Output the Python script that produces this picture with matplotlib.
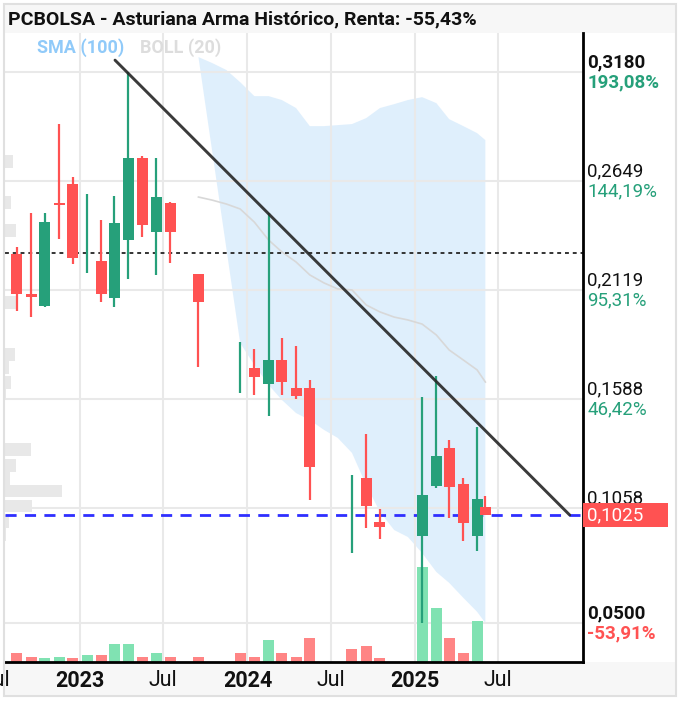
import matplotlib
matplotlib.use("Agg")
import matplotlib.pyplot as plt
import matplotlib.dates as mdates
import matplotlib.transforms as mtransforms
from matplotlib.patches import Rectangle
import numpy as np

plt.rcParams['font.family'] = ['Roboto', 'DejaVu Sans']

# ---------------- data ----------------
title = "PCBOLSA - Asturiana Arma Histórico, Renta: -55,43%"

dates = ["2022-08-16", "2022-09-16", "2022-10-16", "2022-11-16", "2022-12-16",
         "2023-01-16", "2023-02-16", "2023-03-16", "2023-04-16", "2023-05-16",
         "2023-06-16", "2023-07-16", "2023-09-16", "2023-12-16", "2024-01-16",
         "2024-02-16", "2024-03-16", "2024-04-16", "2024-05-16", "2024-08-16",
         "2024-09-16", "2024-10-16", "2025-01-16", "2025-02-16", "2025-03-16",
         "2025-04-16", "2025-05-16", "2025-06-03"]
opens = [0.2295, 0.2100, 0.2042, 0.2545, 0.2635, 0.2295, 0.2261, 0.2081, 0.2363, 0.2762,
         0.2402, 0.2543, 0.2198, 0.1742, 0.1740, 0.1663, 0.1779, 0.1643, 0.1643, 0.1030,
         0.1205, 0.0991, 0.0923, 0.1166, 0.1351, 0.1176, 0.0923, 0.1064]
highs = [0.2329, 0.2494, 0.2494, 0.2927, 0.2669, 0.2587, 0.2460, 0.2577, 0.3180, 0.2770,
         0.2762, 0.2550, 0.2198, 0.1867, 0.1833, 0.2494, 0.1886, 0.1847, 0.1682, 0.1220,
         0.1419, 0.1055, 0.1599, 0.1701, 0.1390, 0.1205, 0.1453, 0.1118]
lows = [0.2018, 0.1988, 0.2037, 0.2368, 0.2246, 0.2202, 0.2061, 0.2037, 0.2173, 0.2377,
        0.2193, 0.2251, 0.1745, 0.1619, 0.1609, 0.1507, 0.1609, 0.1590, 0.1098, 0.0841,
        0.0962, 0.0909, 0.0500, 0.1157, 0.1011, 0.0899, 0.0850, 0.1025]
closes = [0.2100, 0.2086, 0.2450, 0.2532, 0.2275, 0.2295, 0.2100, 0.2446, 0.2762, 0.2436,
          0.2572, 0.2402, 0.2061, 0.1742, 0.1697, 0.1779, 0.1672, 0.1604, 0.1259, 0.1030,
          0.1069, 0.0967, 0.1123, 0.1312, 0.1162, 0.0987, 0.1103, 0.1025]
volumes = [9, 5, 4, 5, 4, 7, 7, 18, 18, 5, 9, 5, 5, 9, 5, 22, 9, 5, 24, 13, 16, 4,
           95, 54, 24, 9, 41, 0]
vol_dir = ["d", "d", "u", "u", "d", "u", "d", "u", "u", "d", "u", "d", "d", "d", "d",
           "u", "d", "d", "d", "d", "d", "d", "u", "u", "d", "d", "u", "d"]

boll_dates = ["2023-09-16", "2023-10-16", "2023-11-16", "2023-12-16", "2024-01-16",
              "2024-02-16", "2024-03-16", "2024-04-16", "2024-05-16", "2024-06-16",
              "2024-07-16", "2024-08-16", "2024-09-16", "2024-10-16", "2024-11-16",
              "2024-12-16", "2025-01-16", "2025-02-16", "2025-03-16", "2025-04-16",
              "2025-05-16", "2025-06-03"]
boll_upper = [0.3253, 0.3224, 0.3190, 0.3131, 0.3063, 0.3063, 0.3044, 0.3005, 0.2917,
              0.2917, 0.2922, 0.2927, 0.2956, 0.3005, 0.3024, 0.3044, 0.3058, 0.3029,
              0.2951, 0.2917, 0.2883, 0.2849]
boll_mid = [0.2572, 0.2557, 0.2538, 0.2514, 0.2450, 0.2363, 0.2305, 0.2256, 0.2193,
            0.2154, 0.2125, 0.2120, 0.2047, 0.2013, 0.1988, 0.1974, 0.1954, 0.1901,
            0.1828, 0.1779, 0.1731, 0.1672]
boll_lower_dates = boll_dates[3:]
boll_lower = [0.1862, 0.1755, 0.1658, 0.1585, 0.1521, 0.1487, 0.1439, 0.1400, 0.1327,
              0.1171, 0.1040, 0.0952, 0.0918, 0.0840, 0.0748, 0.0695, 0.0622, 0.0554,
              0.0500]

profile_prices = [0.2745, 0.2545, 0.2409, 0.2061, 0.1808, 0.1743, 0.1672, 0.1614,
                  0.1342, 0.1266, 0.1205, 0.1142, 0.1069, 0.0994, 0.0928]
profile_vol = [8, 6, 11, 11, 10, 4, 6, 1, 26, 11, 5, 57, 27, 4, 1]

trend_dates = ["2023-03-18", "2025-12-04"]
trend_values = [0.3238, 0.1025]

ref_price = 0.2300      # start-of-period price (dotted)
last_price = 0.1025

ytick_vals = [0.3180, 0.2649, 0.2119, 0.1588, 0.1058, 0.0500]
ytick_labels = ["0,3180", "0,2649", "0,2119", "0,1588", "0,1058", "0,0500"]
ytick_pcts = ["193,08%", "144,19%", "95,31%", "46,42%", "", "-53,91%"]
ytick_bold = [True, False, False, False, False, True]

xtick_dates = ["2022-07-01", "2023-01-01", "2023-07-01", "2024-01-01", "2024-07-01",
               "2025-01-01", "2025-07-01"]
xtick_labels = ["Jul", "2023", "Jul", "2024", "Jul", "2025", "Jul"]

# ---------------- styling ----------------
GREEN = "#26a07a"
RED = "#ff5252"
VGREEN = "#80e2b2"
VRED = "#ff8585"

W, H = 681, 701
fig = plt.figure(figsize=(W / 100, H / 100), dpi=100)
fig.patch.set_facecolor("white")


def fx(px):
    return px / W


def fy(py):
    return 1 - py / H


L, R, T, B = 5, 583, 33, 662
pos = [fx(L), fy(B), fx(R) - fx(L), fy(T) - fy(B)]

fig.patches.append(Rectangle((fx(5), fy(33)), fx(675) - fx(5), fy(5) - fy(33),
                             transform=fig.transFigure, fc="#f7f7f7", ec="none", zorder=-2))
fig.patches.append(Rectangle((fx(5), fy(695)), fx(675) - fx(5), fy(662) - fy(695),
                             transform=fig.transFigure, fc="#f7f7f7", ec="none", zorder=-2))
fig.patches.append(Rectangle((fx(4), fy(696)), fx(676) - fx(4), fy(4) - fy(696),
                             transform=fig.transFigure, fc="none", ec="#e0e0e0", lw=1.5,
                             zorder=20))

d = mdates.datestr2num
xd = np.array([d(s) for s in dates])
o = np.array(opens); h = np.array(highs); lo = np.array(lows); c = np.array(closes)
xmin, xmax = d("2022-07-21"), d("2026-01-02")
ymin, ymax = 0.0310, 0.3370

# background axes: grid + bollinger band
ax_bg = fig.add_axes(pos, zorder=0)
ax_bg.set_facecolor("white")
for s in ax_bg.spines.values():
    s.set_visible(False)

bx = np.array([d(s) for s in boll_dates])
blx = np.array([d(s) for s in boll_lower_dates])
ax_bg.fill(np.concatenate([bx, blx[::-1]]),
           np.concatenate([boll_upper, boll_lower[::-1]]),
           color="#cbe5fb", alpha=0.6, lw=0, zorder=1)
ax_bg.plot(bx, boll_mid, color="#d8d8d8", lw=1.2, zorder=2)

# volume profile
ax_vp = fig.add_axes(pos, sharey=ax_bg, zorder=1)
ax_vp.patch.set_alpha(0)
ax_vp.barh(profile_prices, profile_vol, height=0.0063, left=0, color="#e8e8e8", lw=0)
ax_vp.set_xlim(0, max(profile_vol) * 10.14)
ax_vp.axis("off")

# volume
ax_vol = fig.add_axes(pos, sharex=ax_bg, zorder=2)
ax_vol.patch.set_alpha(0)
vcol = [VGREEN if v == "u" else VRED for v in vol_dir]
ax_vol.bar(xd, volumes, width=24, color=vcol, lw=0)
ax_vol.set_ylim(0, max(volumes) * 6.62)
ax_vol.axis("off")

# main price axes
ax = fig.add_axes(pos, sharex=ax_bg, sharey=ax_bg, zorder=3)
ax.patch.set_alpha(0)

xt = [d(s) for s in xtick_dates]
ax.set_xticks(xt)
ax.set_yticks(ytick_vals)
ax.set_xlim(xmin, xmax)
ax.set_ylim(ymin, ymax)
ax_bg.grid(True, color="#e9e9e9", lw=1.5)
ax_bg.set_axisbelow("line")
ax.tick_params(length=0, labelbottom=False, labelleft=False)
ax_bg.tick_params(length=0, labelbottom=False, labelleft=False)

for k in ["left", "top"]:
    ax.spines[k].set_visible(False)
for k in ["right", "bottom"]:
    ax.spines[k].set_color("black")
    ax.spines[k].set_linewidth(2)

ccol = np.where(c >= o, GREEN, RED)
ax.vlines(xd, lo, h, colors=ccol, lw=1.6, zorder=3)
body_lo = np.minimum(o, c)
body_h = np.abs(c - o)
ax.bar(xd, body_h, bottom=body_lo, width=24, color=ccol, lw=0, zorder=4)

ax.axhline(ref_price, color="#333333", lw=1.4, ls=(0, (2, 2)), zorder=2)
ax.axhline(last_price, color="#2f2fff", lw=2, ls=(0, (4, 3)), zorder=2)
ax.plot([d(s) for s in trend_dates], trend_values, color="#262626", lw=2.1,
        alpha=0.9, solid_capstyle="round", zorder=5)
ax.set_xlim(xmin, xmax)
ax.set_ylim(ymin, ymax)

# x labels
tx = mtransforms.blended_transform_factory(ax.transData, ax.transAxes)
for xv, lab in zip(xt, xtick_labels):
    ax.text(xv, -19 / 629, lab, transform=tx, ha="center", va="center",
            fontsize=15.5, fontweight="bold" if lab.isdigit() else "normal",
            color="#111111", clip_on=False)

# right labels
ty = mtransforms.blended_transform_factory(ax.transAxes, ax.transData)
for v, lab, pct, bold in zip(ytick_vals, ytick_labels, ytick_pcts, ytick_bold):
    ax.annotate(lab, xy=(1, v), xycoords=ty, xytext=(3, 6.8), textcoords="offset points",
                ha="left", va="center", fontsize=13.5,
                fontweight="bold" if bold else "normal", color="#111111",
                annotation_clip=False)
    if pct:
        ax.annotate(pct, xy=(1, v), xycoords=ty, xytext=(3, -7.2),
                    textcoords="offset points", ha="left", va="center", fontsize=13.5,
                    fontweight="bold" if bold else "normal",
                    color=RED if pct.startswith("-") else GREEN, annotation_clip=False)

ax.add_patch(Rectangle((1.0, last_price - 0.0058), 85 / 578, 0.0117, transform=ty,
                       fc=RED, ec="none", clip_on=False, zorder=10))
ax.annotate("0,1025", xy=(1, last_price), xycoords=ty, xytext=(3, 0),
            textcoords="offset points", ha="left", va="center", fontsize=13.5,
            color="white", annotation_clip=False, zorder=11)

# legend
ax.text(32 / 578, 1 - 15 / 629, "SMA (100)", transform=ax.transAxes, fontsize=13,
        fontweight="bold", color="#90caf9", va="center", ha="left")
ax.text(135 / 578, 1 - 15 / 629, "BOLL (20)", transform=ax.transAxes, fontsize=13,
        fontweight="bold", color="#dddddd", va="center", ha="left")

fig.text(fx(8), fy(19), title, fontsize=14, fontweight="bold", color="#111111",
         va="center", ha="left")

fig.savefig("out.png", dpi=100, facecolor="white")
